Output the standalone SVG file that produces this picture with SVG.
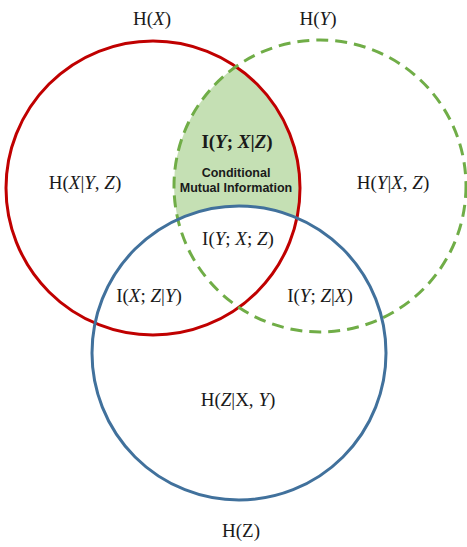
<svg xmlns="http://www.w3.org/2000/svg" width="467" height="547" viewBox="0 0 467 547">
<style>
.t{font-family:"Liberation Serif","DejaVu Serif",serif;font-size:19px;fill:#1a1a1a;text-anchor:middle}
.i{font-style:italic}
.b{font-weight:bold}
.s{font-family:"Liberation Sans",Arial,sans-serif;font-size:12.5px;font-weight:bold;fill:#1a1a1a;text-anchor:middle}
</style>
<defs>
<clipPath id="clipRed"><circle cx="153" cy="188" r="147"/></clipPath>
<mask id="noBlue"><rect width="467" height="547" fill="#fff"/><circle cx="239" cy="353" r="147" fill="#000"/></mask>
</defs>
<g id="cmi-region" mask="url(#noBlue)"><circle cx="320" cy="186" r="146" fill="#c5e0b4" clip-path="url(#clipRed)"/></g>
<g id="circle-X"><circle cx="153" cy="188" r="147" fill="none" stroke="#c00000" stroke-width="3"/></g>
<g id="circle-Y"><circle cx="320" cy="186" r="146" fill="none" stroke="#70ad47" stroke-width="3" stroke-dasharray="12 7"/></g>
<g id="circle-Z"><circle cx="239" cy="353" r="147" fill="none" stroke="#41719c" stroke-width="3"/></g>
<g id="labels">
<text class="t" x="152" y="25">H(<tspan class="i">X</tspan>)</text>
<text class="t" x="318" y="25">H(<tspan class="i">Y</tspan>)</text>
<text class="t b" x="237" y="148">I(<tspan class="i">Y</tspan>; <tspan class="i">X</tspan>|<tspan class="i">Z</tspan>)</text>
<text class="s" x="236" y="177">Conditional</text>
<text class="s" x="236" y="192">Mutual Information</text>
<text class="t" x="85" y="189">H(<tspan class="i">X</tspan>|<tspan class="i">Y</tspan>, <tspan class="i">Z</tspan>)</text>
<text class="t" x="393" y="189">H(<tspan class="i">Y</tspan>|<tspan class="i">X</tspan>, <tspan class="i">Z</tspan>)</text>
<text class="t" x="238" y="245">I(<tspan class="i">Y</tspan>; <tspan class="i">X</tspan>; <tspan class="i">Z</tspan>)</text>
<text class="t" x="149" y="302">I(<tspan class="i">X</tspan>; <tspan class="i">Z</tspan>|<tspan class="i">Y</tspan>)</text>
<text class="t" x="320" y="302">I(<tspan class="i">Y</tspan>; <tspan class="i">Z</tspan>|<tspan class="i">X</tspan>)</text>
<text class="t" x="238" y="406">H(<tspan class="i">Z</tspan>|X, <tspan class="i">Y</tspan>)</text>
<text class="t" x="241" y="537">H(Z)</text>
</g>
</svg>
